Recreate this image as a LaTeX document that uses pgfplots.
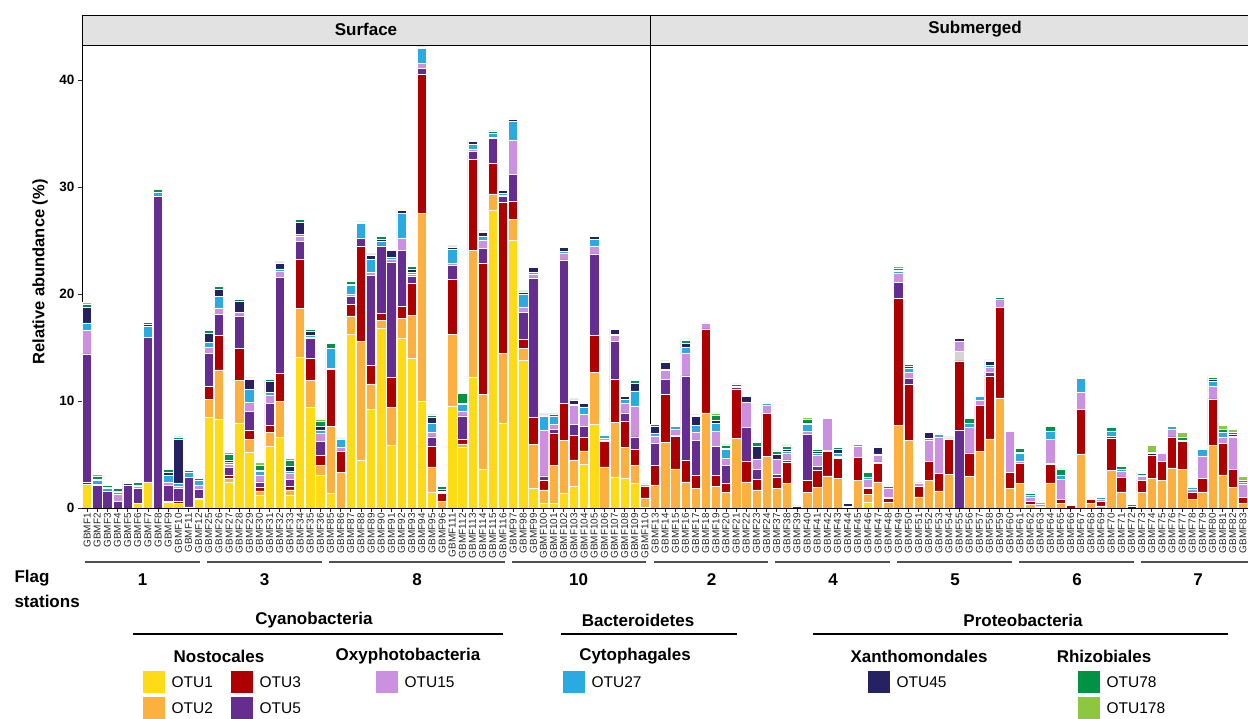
\documentclass[border=0pt]{standalone}
\usepackage{pgfplots}
\pgfplotsset{compat=1.18}
\usepackage{pgfplotstable}
\usepackage{fontspec}
\setmainfont{Liberation Sans}
\definecolor{cOa}{HTML}{FDDB16}
\definecolor{cOb}{HTML}{FBB040}
\definecolor{cOc}{HTML}{AE0000}
\definecolor{cOd}{HTML}{662D91}
\definecolor{cOe}{HTML}{CC90E0}
\definecolor{cOf}{HTML}{29ABE2}
\definecolor{cOg}{HTML}{262262}
\definecolor{cOh}{HTML}{009245}
\definecolor{cOi}{HTML}{8DC63F}
\definecolor{cOth}{HTML}{D4D4D4}
\definecolor{stripgray}{HTML}{E2E2E2}
\definecolor{grpgray}{HTML}{505050}

\pgfplotstableread{
i s o1 o2 o3 o5 o15 o27 o45 o78 o178
0 GBMF1 2.2 0 0.2 12.0 2.2 0.7 1.5 0.25 0.15
1 GBMF2 0 0 0 2.1 0.1 0.35 0.15 0.3 0.15
2 GBMF3 0 0 0 1.6 0 0.2 0.15 0.15 0.1
3 GBMF4 0 0 0 0.6 0.7 0.2 0.1 0.25 0.1
4 GBMF5 0 0 0 2.1 0 0.05 0.15 0.1 0.1
5 GBMF6 0.4 0 0 1.4 0.25 0.1 0 0.25 0.1
6 GBMF7 2.45 0 0 13.5 0 1.0 0.25 0.15 0.1
7 GBMF8 0 0 0 29.1 0 0.4 0 0.25 0.1
8 GBMF9 0.5 0 0.1 1.5 0.3 0.7 0.2 0.3 0.1
9 GBMF10 0.4 0 0.2 1.25 0.2 0.3 4.05 0.25 0.1
10 GBMF11 0.1 0 0 2.75 0 0.45 0 0.2 0.1
11 GBMF12 0.8 0 0.1 0.85 0.4 0.4 0 0.2 0.1
12 GBMF25 8.5 1.65 1.25 3.05 0.6 0.4 0.85 0.3 0.1
13 GBMF26 8.3 4.6 3.2 2.0 0.6 1.05 0.65 0.3 0.1
14 GBMF27 2.45 0.3 0.3 0.75 0.25 0.25 0.2 0.55 0.15
15 GBMF28 7.95 3.95 3.05 3.0 0.3 0 1.1 0.15 0.1
16 GBMF29 5.25 1.15 0.9 1.7 0.85 1.25 0.95 0.1 0.05
17 GBMF30 1.2 0.4 0.35 0.5 0.65 0.3 0.15 0.45 0.25
18 GBMF31 5.8 1.25 0.7 2.05 0.75 0.25 1.05 0.15 0.05
19 GBMF32 6.6 3.35 2.65 8.95 0.55 0.25 0.55 0.1 0.05
20 GBMF33 1.2 0.5 0.35 0.65 0.55 0.15 0.5 0.6 0.15
21 GBMF34 14.1 4.55 4.6 1.65 0.5 0.2 1.15 0.25 0.1
22 GBMF35 9.4 2.5 2.1 1.85 0.15 0.1 0.45 0.15 0.05
23 GBMF36 3.1 0.85 1.0 1.3 0.75 0.3 0.3 0.55 0.1
24 GBMF85 1.35 6.25 5.35 0.1 0 1.9 0 0.4 0.1
25 GBMF86 0 3.3 2.05 0 0.35 0.75 0 0 0.1
26 GBMF87 16.25 1.7 1.1 0.75 0.2 0.85 0.05 0.3 0.1
27 GBMF88 4.5 11.05 8.95 0.75 0 1.35 0.1 0.05 0.05
28 GBMF89 9.25 2.35 1.75 8.4 0.25 1.25 0.4 0.1 0.05
29 GBMF90 16.8 0.7 0.7 6.3 0 0.4 0.25 0.25 0.05
30 GBMF91 5.9 3.5 2.85 10.75 0.25 0.15 0.65 0.05 0
31 GBMF92 15.9 1.8 1.2 5.2 1.15 2.3 0.25 0.1 0.05
32 GBMF93 14.0 4.0 3.0 0.7 0.1 0.2 0.35 0.25 0.05
33 GBMF94 10.0 17.5 13.05 0.5 0.5 1.4 0.15 0.05 0
34 GBMF95 1.45 2.4 1.95 0.85 0.4 0.85 0.55 0.25 0.05
35 GBMF96 0 0.6 0.75 0.1 0.15 0 0.15 0.3 0.05
36 GBMF111 9.55 6.7 5.1 1.3 0.2 1.3 0.25 0.1 0.05
37 GBMF112 5.65 0.35 0.4 2.2 0.4 0.7 0.05 0.95 0.1
38 GBMF113 12.25 11.8 8.55 0.7 0.2 0.45 0.3 0.1 0.05
39 GBMF114 3.6 7.0 12.3 1.35 0.8 0.35 0.35 0.15 0.05
40 GBMF115 27.85 1.5 2.85 2.35 0.1 0.35 0.05 0.2 0.05
41 GBMF116 7.9 6.55 14.15 0.5 0.15 0.15 0.25 0.1 0.05
42 GBMF97 25.05 1.95 1.7 2.5 3.2 1.7 0.2 0.1 0.05
43 GBMF98 13.85 1.1 0.85 2.45 0.55 1.15 0.25 0.1 0.05
44 GBMF99 1.85 4.1 2.5 13.0 0.35 0.2 0.5 0.1 0.05
45 GBMF100 0.45 1.25 0.9 0.4 4.3 1.3 0.1 0.1 0
46 GBMF101 0.45 3.55 3.0 0.35 0.5 0.7 0.05 0.2 0.05
47 GBMF102 1.35 5.0 3.45 13.4 0.65 0.15 0.35 0.1 0
48 GBMF103 2.0 2.5 2.3 1.0 1.8 0.1 0.4 0.1 0
49 GBMF104 4.1 1.25 1.25 1.05 1.1 0.7 0.3 0.1 0
50 GBMF105 7.8 4.85 3.45 7.65 0.75 0.6 0.25 0.1 0.05
51 GBMF106 0 3.85 2.35 0.15 0.15 0.3 0 0 0.05
52 GBMF107 2.9 5.1 4.0 3.55 0.6 0.1 0.45 0.1 0
53 GBMF108 2.75 2.9 2.5 0.75 0.9 0.35 0.3 0.1 0
54 GBMF109 2.3 1.7 1.5 1.15 2.9 1.4 0.7 0.25 0.1
55 GBMF110 0.1 0.85 1.05 0 0.2 0 0 0.05 0.05
}\surf

\pgfplotstableread{
i s p0 o1 o2 o3 o5 oth o15 o27 o45 o78 o178
0 GBMF13 0 0 2.15 1.85 2.05 0 0.7 0.25 0.65 0.15 0.05
1 GBMF14 0 0 6.1 4.5 1.45 0 0.85 0.05 0.65 0.15 0.05
2 GBMF15 0 0 3.65 3.1 0.05 0 0.55 0.25 0 0 0.05
3 GBMF16 0 0 2.45 2.05 7.85 0 2.15 0.5 0.4 0.3 0.1
4 GBMF17 0 0 1.8 1.3 3.2 0 0.75 0.7 0.8 0.15 0.05
5 GBMF18 0 0 8.9 7.85 0 0 0.55 0 0 0 0
6 GBMF19 0 0 2.0 1.1 2.65 0 1.4 0.75 0.3 0.5 0.2
7 GBMF20 0 0 1.45 0.9 1.65 0 0.65 0.85 0.1 0.3 0.05
8 GBMF21 0 0 6.5 4.6 0.15 0 0.1 0.05 0 0.15 0.05
9 GBMF22 0 0 2.45 1.95 3.1 0 2.4 0 0.5 0.05 0
10 GBMF23 0 0 1.7 1.0 0.9 0 0.95 0.05 1.15 0.35 0.05
11 GBMF24 0 0 4.85 4.0 0 0 0.75 0.15 0 0 0
12 GBMF37 0 0 1.8 1.05 0.3 0 1.4 0.05 0.4 0.3 0.05
13 GBMF38 0 0 2.3 1.95 0.25 0 0.6 0.2 0.2 0.3 0.1
14 GBMF39 0 0 0 0.15 0 0 0 0.05 0.05 0 0
15 GBMF40 0 0 1.45 1.1 4.35 0 0.25 0.65 0.15 0.35 0.15
16 GBMF41 0 0 1.95 1.6 0.35 0 1.05 0.2 0.15 0.15 0
17 GBMF42 0 0 3.0 2.35 0.05 0 3.0 0 0 0.1 0.05
18 GBMF43 0 0 2.75 1.9 0.05 0 0.15 0.3 0.35 0.15 0
19 GBMF44 0 0 0.05 0 0 0 0 0.1 0.25 0.15 0
20 GBMF45 0 0 2.55 2.2 0 0 1.05 0.15 0 0.1 0
21 GBMF46 0 0.5 0.75 0.55 0.1 0 0.8 0.2 0 0.4 0.05
22 GBMF47 0 0 2.45 1.7 0.15 0 0.6 0.15 0.6 0.05 0.1
23 GBMF48 0 0 0.5 0.4 0.1 0 0.8 0 0 0.2 0
24 GBMF49 0 0 7.75 11.85 1.5 0 0.8 0.2 0.1 0.25 0.15
25 GBMF50 0 0 6.3 5.3 0.5 0 0.6 0.4 0.15 0.15 0.05
26 GBMF51 0 0 1.05 0.95 0 0 0.3 0 0 0.05 0.05
27 GBMF52 0 0 2.55 1.8 0 0 2.0 0.15 0.55 0.1 0
28 GBMF53 0 0 1.6 1.65 0 0 3.4 0.2 0 0.15 0
29 GBMF54 0 0 3.15 3.3 0 0 0.05 0.05 0 0.1 0.05
30 GBMF55 7.3 0 0 6.45 0 0.9 0.95 0 0.25 0.1 0
31 GBMF56 0 0 2.95 2.2 0 0 2.4 0.35 0 0.45 0.1
32 GBMF57 0 0 5.3 4.3 0 0 0.5 0.3 0 0.05 0.05
33 GBMF58 0 0 6.45 5.9 0.35 0 0.45 0.15 0.4 0.1 0.05
34 GBMF59 0 0 10.3 8.45 0 0 0.75 0 0 0.15 0.05
35 GBMF60 0 0 1.85 1.45 0 0 3.85 0.1 0 0.1 0
36 GBMF61 0 0 2.3 1.85 0 0 0.25 0.7 0.15 0.3 0.1
37 GBMF62 0 0 0.35 0.25 0 0 0.45 0.15 0 0.2 0.1
38 GBMF63 0 0 0 0.1 0.1 0 0.15 0 0 0 0.15
39 GBMF64 0 0 2.35 1.75 0.05 0 2.25 0.8 0 0.4 0.05
40 GBMF65 0 0 0.4 0.4 0 0 1.9 0.4 0 0.55 0.05
41 GBMF66 0 0 0 0.25 0.1 0 0.1 0 0 0.1 0.05
42 GBMF67 0 0 5.05 4.2 0 0 1.6 1.25 0 0.1 0.05
43 GBMF68 0 0 0.45 0.35 0 0 0.15 0.05 0 0.1 0
44 GBMF69 0 0 0.2 0.4 0 0 0.2 0.2 0 0 0
45 GBMF70 0 0 3.55 3.0 0.15 0 0 0.5 0 0.3 0.05
46 GBMF71 0 0 1.5 1.4 0 0 0.55 0.2 0 0.25 0.05
47 GBMF72 0 0 0 0 0 0 0 0 0.15 0.2 0.1
48 GBMF73 0 0 1.45 1.15 0 0 0.35 0.15 0 0.15 0.05
49 GBMF74 0 0 2.75 2.15 0 0 0 0 0.2 0.15 0.6
50 GBMF75 0 0 2.55 1.8 0 0 0.75 0 0 0 0
51 GBMF76 0 0 3.75 2.9 0 0 0.7 0.25 0 0 0.1
52 GBMF77 0 0 3.6 2.6 0.15 0 0 0 0 0.3 0.4
53 GBMF78 0 0 0.8 0.7 0 0 0.25 0.2 0 0.05 0.05
54 GBMF79 0 0 1.5 1.25 0 0 2.05 0.7 0 0.05 0.05
55 GBMF80 0 0 5.85 4.35 0 0 1.15 0.45 0.25 0.15 0.15
56 GBMF81 0 0 3.1 2.95 0 0 0.6 0.4 0 0.3 0.35
57 GBMF82 0 0 1.95 1.65 0 0 3.05 0.1 0.15 0.2 0.25
58 GBMF83 0 0 0.45 0.55 0 0 1.2 0.25 0 0.15 0.4
}\subm

\pgfplotsset{
  panel/.style={
    scale only axis, ybar stacked, bar width=0.92,
    ymin=0, ymax=43.27, enlargelimits=false,
    height=463pt,
    tick align=outside, major tick length=4pt,
    tick style={black!85, line width=0.7pt},
    axis line style={black, line width=0.9pt},
    xticklabel style={rotate=90, anchor=east, text=black!85,
      font=\fontsize{10}{12}\selectfont, inner sep=1pt},
    yticklabel style={font=\fontsize{13.5}{16}\selectfont\bfseries},
    /pgf/number format/assume math mode=true,
    tick label style={/pgf/number format/assume math mode=true},
  },
  seg/.style={fill=#1, draw=white, line width=0.5pt},
}

\begin{document}
\begin{tikzpicture}[x=1pt,y=1pt]
\useasboundingbox (0,0) rectangle (1248,718);

% Surface panel
\begin{axis}[panel, at={(82pt,210pt)}, anchor=south west,
  width=568pt, xmin=-0.5, xmax=55.5,
  xtick={0,...,55}, xticklabels from table={\surf}{s},
  ytick={0,10,20,30,40}, tick pos=left]
\addplot[seg=cOa] table[x=i,y=o1]{\surf};
\addplot[seg=cOb] table[x=i,y=o2]{\surf};
\addplot[seg=cOc] table[x=i,y=o3]{\surf};
\addplot[seg=cOd] table[x=i,y=o5]{\surf};
\addplot[seg=cOe] table[x=i,y=o15]{\surf};
\addplot[seg=cOf] table[x=i,y=o27]{\surf};
\addplot[seg=cOg] table[x=i,y=o45]{\surf};
\addplot[seg=cOh] table[x=i,y=o78]{\surf};
\addplot[seg=cOi] table[x=i,y=o178]{\surf};
\end{axis}

% Submerged panel
\begin{axis}[panel, at={(650pt,210pt)}, anchor=south west,
  width=598pt, xmin=-0.5, xmax=58.5,
  axis x line*=bottom, axis y line*=left,
  xtick={0,...,58}, xticklabels from table={\subm}{s},
  ytick=\empty]
\addplot[seg=cOd] table[x=i,y=p0]{\subm};
\addplot[seg=cOa] table[x=i,y=o1]{\subm};
\addplot[seg=cOb] table[x=i,y=o2]{\subm};
\addplot[seg=cOc] table[x=i,y=o3]{\subm};
\addplot[seg=cOd] table[x=i,y=o5]{\subm};
\addplot[seg=cOth] table[x=i,y=oth]{\subm};
\addplot[seg=cOe] table[x=i,y=o15]{\subm};
\addplot[seg=cOf] table[x=i,y=o27]{\subm};
\addplot[seg=cOg] table[x=i,y=o45]{\subm};
\addplot[seg=cOh] table[x=i,y=o78]{\subm};
\addplot[seg=cOi] table[x=i,y=o178]{\subm};
\end{axis}

% strips
\draw[fill=stripgray, line width=0.9pt] (82,673) rectangle (650,703);
\draw[fill=stripgray, line width=0.9pt] (650,673) rectangle (1262,703);
\node[font=\fontsize{17}{20}\selectfont\bfseries] at (366,688.5) {Surface};
\node[font=\fontsize{17}{20}\selectfont\bfseries] at (975,688.5) {Submerged};

% y label
\node[rotate=90, font=\fontsize{16.5}{19}\selectfont\bfseries] at (40,446) {Relative abundance (\%)};

% flag stations
\node[anchor=west, font=\fontsize{17}{20}\selectfont\bfseries] at (11,140) {Flag};
\node[anchor=west, font=\fontsize{17}{20}\selectfont\bfseries] at (11,117) {stations};
\begin{scope}[line width=2pt, grpgray]
\draw (85,156) -- (200,156);
\draw (207,156) -- (322,156);
\draw (329,156) -- (505,156);
\draw (512,156) -- (646,156);
\draw (654,156) -- (768,156);
\draw (775,156) -- (890,156);
\draw (897,156) -- (1012,156);
\draw (1019,156) -- (1134,156);
\draw (1141,156) -- (1256,156);
\end{scope}
\begin{scope}[every node/.style={font=\fontsize{17}{20}\selectfont\bfseries}]
\node at (142.5,138) {1};
\node at (264.5,138) {3};
\node at (417,138) {8};
\node at (578.5,138) {10};
\node at (711.5,138) {2};
\node at (833,138) {4};
\node at (955,138) {5};
\node at (1077,138) {6};
\node at (1198,138) {7};
\end{scope}

% taxonomy
\begin{scope}[every node/.style={font=\fontsize{17}{20}\selectfont\bfseries}]
\node at (314,98) {Cyanobacteria};
\node at (638,98) {Bacteroidetes};
\node at (1023,98) {Proteobacteria};
\node at (219,62) {Nostocales};
\node at (408,62) {Oxyphotobacteria};
\node at (635,62) {Cytophagales};
\node at (919,62) {Xanthomondales};
\node at (1104,62) {Rhizobiales};
\end{scope}
\draw[line width=2.5pt] (133,84) -- (503,84);
\draw[line width=2.5pt] (561,84) -- (737,84);
\draw[line width=2.5pt] (813,84) -- (1228,84);

% legend swatches
\fill[cOa] (143,25) rectangle (165,47);
\fill[cOb] (143,-1) rectangle (165,21);
\fill[cOc] (231,25) rectangle (253,47);
\fill[cOd] (231,-1) rectangle (253,21);
\fill[cOe] (376,25) rectangle (398,47);
\fill[cOf] (563,25) rectangle (585,47);
\fill[cOg] (868,25) rectangle (890,47);
\fill[cOh] (1078,25) rectangle (1100,47);
\fill[cOi] (1078,-1) rectangle (1100,21);
\begin{scope}[every node/.style={anchor=west, font=\fontsize{15.5}{18}\selectfont}]
\node at (168,36) {OTU1};
\node at (168,10) {OTU2};
\node at (256,36) {OTU3};
\node at (256,10) {OTU5};
\node at (401,36) {OTU15};
\node at (588,36) {OTU27};
\node at (893,36) {OTU45};
\node at (1103,36) {OTU78};
\node at (1103,10) {OTU178};
\end{scope}
\end{tikzpicture}
\end{document}
